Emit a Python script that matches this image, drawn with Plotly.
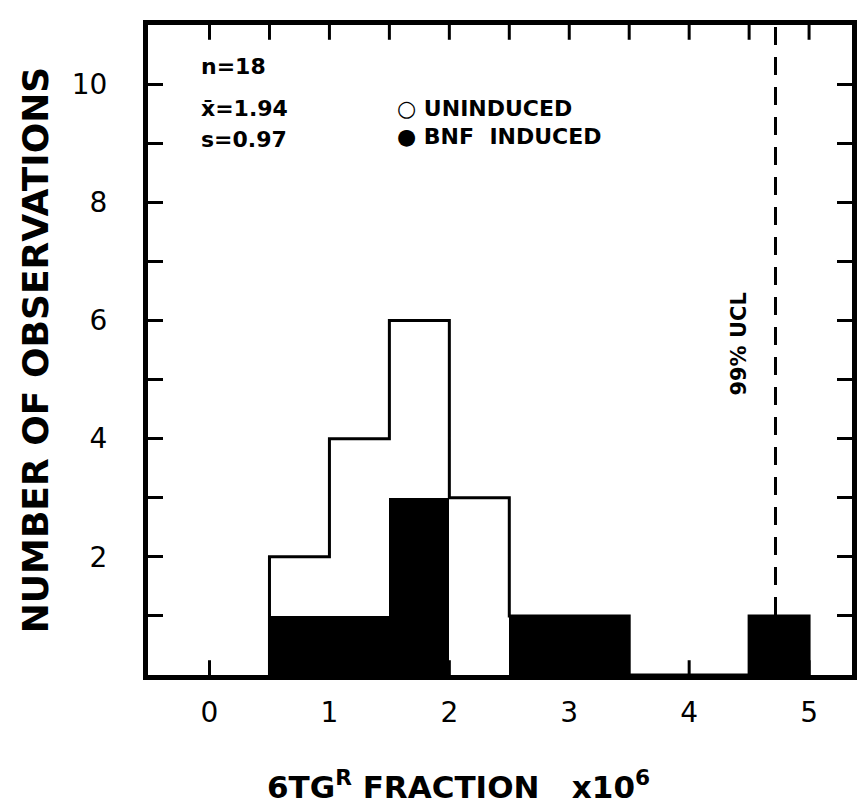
import plotly.graph_objects as go

# ---- data ----
bin_left = [0.5, 1.0, 1.5, 2.0, 2.5, 3.0, 3.5, 4.0, 4.5]
bin_width = 0.5
induced = [1, 1, 3, 0, 1, 1, 0, 0, 1]      # BNF induced (black)
uninduced = [1, 3, 3, 3, 0, 0, 0, 0, 0]    # uninduced (white, stacked on top)
ucl = 4.72
x_ticks = [0, 1, 2, 3, 4, 5]
x_top_ticks = [0, 0.5, 1, 1.5, 2, 2.5, 3, 3.5, 4, 4.5, 5]
y_ticks = [2, 4, 6, 8, 10]

totals = [a + b for a, b in zip(induced, uninduced)]

xr = [-0.513, 5.358]
yr = [0, 11.0]
tick_len_y = 0.25   # tick length in y-data units (~15 px)

fig = go.Figure()

# x-axis tick marks as line segments built from the tick lists
tx, ty = [], []
for v in x_ticks:
    tx += [v, v, None]
    ty += [yr[0], yr[0] + tick_len_y, None]
for v in x_top_ticks:
    tx += [v, v, None]
    ty += [yr[1], yr[1] - tick_len_y, None]
fig.add_trace(go.Scatter(x=tx, y=ty, mode="lines", connectgaps=False,
                         line=dict(color="black", width=3),
                         showlegend=False, hoverinfo="skip"))

fig.add_trace(go.Bar(x=bin_left, y=induced, width=bin_width, offset=0,
                     marker=dict(color="black", line=dict(width=0)),
                     showlegend=False))
fig.add_trace(go.Bar(x=bin_left, y=uninduced, width=bin_width, offset=0,
                     marker=dict(color="white", line=dict(width=0)),
                     showlegend=False))

# histogram outline (step) derived from totals
step_x = [bin_left[0]] + bin_left + [bin_left[-1] + bin_width]
step_y = [0] + totals + [0]
fig.add_trace(go.Scatter(x=step_x, y=step_y, mode="lines", line_shape="hv",
                         line=dict(color="black", width=3), showlegend=False,
                         hoverinfo="skip"))

# 99% UCL dashed line
fig.add_trace(go.Scatter(x=[ucl, ucl], y=[0, 11], mode="lines",
                         line=dict(color="black", width=3, dash="18px,12px"),
                         showlegend=False, hoverinfo="skip"))

tick_font = dict(family="DejaVu Sans", size=28, color="black")

fig.update_layout(
    width=868, height=810,
    margin=dict(l=148, r=11, t=25, b=135),
    paper_bgcolor="white", plot_bgcolor="white",
    barmode="stack", bargap=0,
    xaxis=dict(range=xr, tickmode="array", tickvals=x_ticks,
               ticktext=[str(v) for v in x_ticks], ticks="",
               showline=True, linewidth=5, linecolor="black", mirror=True,
               showgrid=False, zeroline=False, tickfont=tick_font,
               ticklabelstandoff=8),
    yaxis=dict(range=yr, tickmode="array", tickvals=y_ticks,
               ticktext=[str(v) for v in y_ticks],
               ticks="inside", ticklen=15, tickwidth=3, tickcolor="black",
               minor=dict(tick0=0, dtick=1, ticks="inside", ticklen=15,
                          tickwidth=3, tickcolor="black", showgrid=False),
               showline=True, linewidth=5, linecolor="black", mirror="ticks",
               showgrid=False, zeroline=False, tickfont=tick_font,
               ticklabelstandoff=30,
               title=dict(text="<b>NUMBER OF OBSERVATIONS</b>",
                          font=dict(family="DejaVu Sans", size=36, color="black"),
                          standoff=14)),
)

ann_font = dict(family="DejaVu Sans", size=22, color="black")
def ann(text, x, y, **kw):
    d = dict(text=text, x=x, y=y, xref="x", yref="y", showarrow=False,
             xanchor="left", yanchor="middle", font=ann_font)
    d.update(kw)
    fig.add_annotation(**d)

ann("<b>n=18</b>", -0.09, 10.3)
ann("<b>x̄=1.94</b>", -0.09, 9.58)
ann("<b>s=0.97</b>", -0.09, 9.07)
ann("<b>○ UNINDUCED</b>", 1.55, 9.58)
ann("<b>● BNF  INDUCED</b>", 1.55, 9.12)
ann("<b>99% UCL</b>", 4.42, 5.6, textangle=-90, xanchor="center",
    font=dict(family="DejaVu Sans", size=21, color="black"))

fig.add_annotation(text="<b>6TG<sup>R</sup> FRACTION   x10<sup>6</sup></b>",
                   x=(461 - 148) / (868 - 148 - 11),
                   y=-(785 - 675) / (675 - 25),
                   xref="paper", yref="paper", xanchor="center", yanchor="middle",
                   showarrow=False,
                   font=dict(family="DejaVu Sans", size=31, color="black"))

fig.write_html("out.html")
